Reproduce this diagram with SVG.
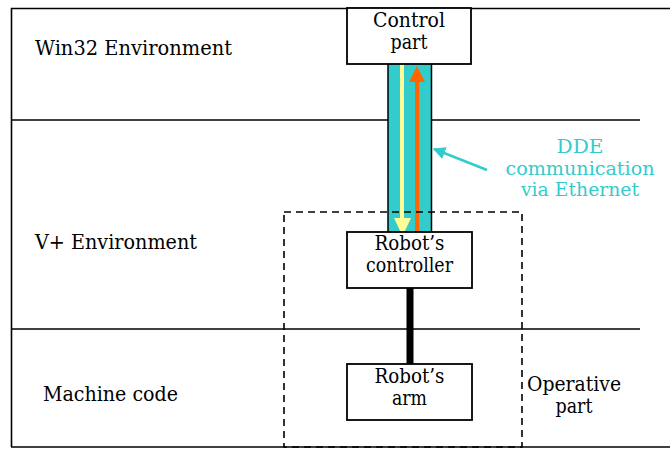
<svg xmlns="http://www.w3.org/2000/svg" width="670" height="449" viewBox="0 0 670 449">
<style>
text{font-family:'DejaVu Serif','Liberation Serif',serif;font-size:20px;fill:#000}
.c{text-anchor:middle}
.cy{fill:#33CCCC;font-size:19px}
.frame{stroke:#000;stroke-width:1.6;fill:none}
.box{fill:#fff;stroke:#000;stroke-width:1.8}
</style>
<defs>
<marker id="ah" viewBox="0 0 10 10" refX="9" refY="5" markerWidth="5" markerHeight="5" orient="auto" markerUnits="strokeWidth">
<path d="M0,0 L10,5 L0,10 z" fill="#33CCCC"/>
</marker>
</defs>
<g id="frame">
<line class="frame" x1="11.5" y1="8" x2="11.5" y2="447"/>
<line class="frame" x1="11" y1="8.5" x2="670" y2="8.5" stroke-width="2.2"/>
<line class="frame" x1="11" y1="447" x2="670" y2="447"/>
<line class="frame" x1="11" y1="120" x2="640" y2="120"/>
<line class="frame" x1="11" y1="329" x2="640" y2="329"/>
<text x="35" y="55" textLength="197" lengthAdjust="spacingAndGlyphs">Win32 Environment</text>
<text x="35" y="249" textLength="162" lengthAdjust="spacingAndGlyphs">V+ Environment</text>
<text x="43" y="401" textLength="135" lengthAdjust="spacingAndGlyphs">Machine code</text>
</g>
<g id="connectors">
<rect x="388" y="62" width="43.5" height="172" fill="#33CCCC" stroke="#000" stroke-width="1.5"/>
<line x1="402" y1="64" x2="402" y2="220" stroke="#FFFF99" stroke-width="4"/>
<path d="M394,218 L411,218 L402.5,236 z" fill="#FFFF99"/>
<line x1="417" y1="232" x2="417" y2="78" stroke="#FF6600" stroke-width="4"/>
<path d="M409,82 L425,82 L417,66 z" fill="#FF6600"/>
<rect x="406.5" y="288" width="7" height="76" fill="#000"/>
<line x1="487" y1="170" x2="434" y2="149" stroke="#33CCCC" stroke-width="2.5" marker-end="url(#ah)"/>
</g>
<g id="operative-part">
<rect x="284" y="212" width="238" height="235" fill="none" stroke="#000" stroke-width="1.6" stroke-dasharray="7,5"/>
<text class="c" x="574" y="391" textLength="94" lengthAdjust="spacingAndGlyphs">Operative</text>
<text class="c" x="574" y="413" textLength="37" lengthAdjust="spacingAndGlyphs">part</text>
</g>
<g id="control-part">
<rect class="box" x="347" y="8" width="124" height="56"/>
<text class="c" x="409" y="27" textLength="72" lengthAdjust="spacingAndGlyphs">Control</text>
<text class="c" x="409" y="49" textLength="37" lengthAdjust="spacingAndGlyphs">part</text>
</g>
<g id="robots-controller">
<rect class="box" x="347" y="232" width="125" height="56"/>
<text class="c" x="409.5" y="250" textLength="70" lengthAdjust="spacingAndGlyphs">Robot’s</text>
<text class="c" x="409.5" y="272" textLength="87" lengthAdjust="spacingAndGlyphs">controller</text>
</g>
<g id="robots-arm">
<rect class="box" x="347" y="364" width="125" height="56"/>
<text class="c" x="409.5" y="383" textLength="70" lengthAdjust="spacingAndGlyphs">Robot’s</text>
<text class="c" x="409.5" y="405" textLength="35" lengthAdjust="spacingAndGlyphs">arm</text>
</g>
<g id="dde-label">
<text class="c cy" x="580" y="153" textLength="47" lengthAdjust="spacingAndGlyphs">DDE</text>
<text class="c cy" x="580" y="175" textLength="149" lengthAdjust="spacingAndGlyphs">communication</text>
<text class="c cy" x="580" y="196" textLength="118" lengthAdjust="spacingAndGlyphs">via Ethernet</text>
</g>
</svg>
